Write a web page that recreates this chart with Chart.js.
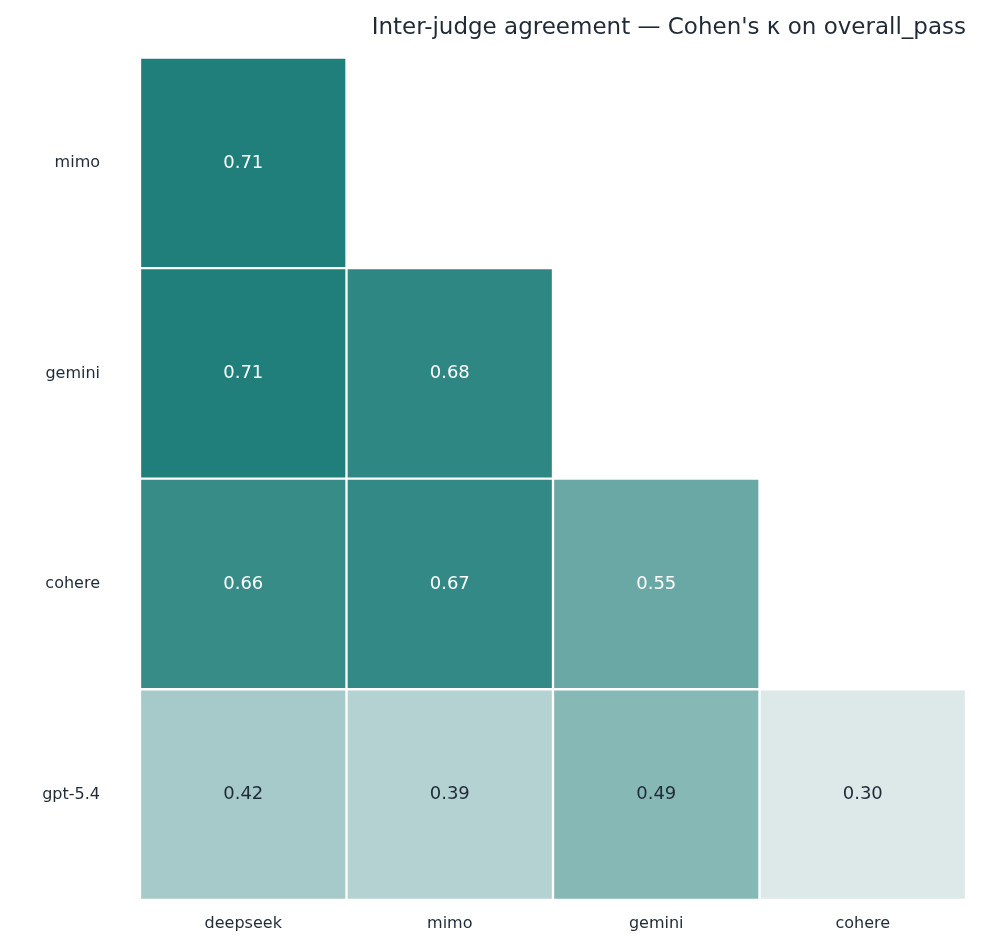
<!DOCTYPE html>
<html><head><meta charset="utf-8">
<script src="https://cdn.jsdelivr.net/npm/chart.js@4"></script>
<style>html,body{margin:0;padding:0;background:#fff}#w{width:985px;height:949px}</style>
</head><body><div id="w"><canvas id="c"></canvas></div>
<script>
const colLabels = ['deepseek','mimo','gemini','cohere'];
const rowLabels = ['mimo','gemini','cohere','gpt-5.4'];
const kappaMimo = [0.71];
const kappaGemini = [0.71,0.68];
const kappaCohere = [0.66,0.67,0.55];
const kappaGpt = [0.42,0.39,0.49,0.30];
const rows = [kappaMimo,kappaGemini,kappaCohere,kappaGpt];
const vmin=0.30, vmax=0.71, lo=[221,233,233], hi=[33,127,123];
function col(v){const t=Math.max(0,Math.min(1,(v-vmin)/(vmax-vmin)));return `rgb(${lo.map((l,i)=>Math.round(l+(hi[i]-l)*t)).join(',')})`;}
const datasets = rows.map((r,ri)=>({
  data:r.map((v,ci)=>({x:colLabels[ci],y:[ri-0.5,ri+0.5],v})),
  backgroundColor:r.map(col),borderColor:'#fff',borderWidth:1.5,borderSkipped:false,
  barPercentage:1,categoryPercentage:1,grouped:false
}));
const txt={id:'txt',afterDatasetsDraw(ch){const c=ch.ctx;c.save();c.font='18px "DejaVu Sans"';c.textAlign='center';c.textBaseline='middle';
ch.data.datasets.forEach((d,di)=>{ch.getDatasetMeta(di).data.forEach((el,i)=>{const v=d.data[i].v;c.fillStyle=v>=0.5?'#ffffff':'#1f2a36';
const p=el.getProps(['x','y','base'],true);c.fillText(v.toFixed(2),p.x,(p.y+p.base)/2);});});c.restore();}};
new Chart(document.getElementById('c'),{type:'bar',data:{labels:colLabels,datasets},plugins:[txt],
options:{responsive:true,maintainAspectRatio:false,animation:false,
layout:{padding:{left:0,right:19,top:0,bottom:10}},
plugins:{legend:{display:false},tooltip:{enabled:false},
title:{display:true,text:"Inter-judge agreement — Cohen's κ on overall_pass",color:'#1f2a36',font:{family:'DejaVu Sans',size:23,weight:'normal'},padding:{top:14,bottom:16},align:'end'}},
scales:{
x:{grid:{display:false},border:{display:false},ticks:{color:'#1f2a36',font:{family:'DejaVu Sans',size:16},padding:6}},
y:{type:'linear',reverse:true,min:-0.5,max:3.5,grid:{display:false},border:{display:false},
afterBuildTicks(a){a.ticks=[0,1,2,3].map(v=>({value:v}));},
afterFit(a){a.width=140;},
ticks:{color:'#1f2a36',font:{family:'DejaVu Sans',size:16},padding:32,callback:v=>rowLabels[v]}}
}}});
</script></body></html>
